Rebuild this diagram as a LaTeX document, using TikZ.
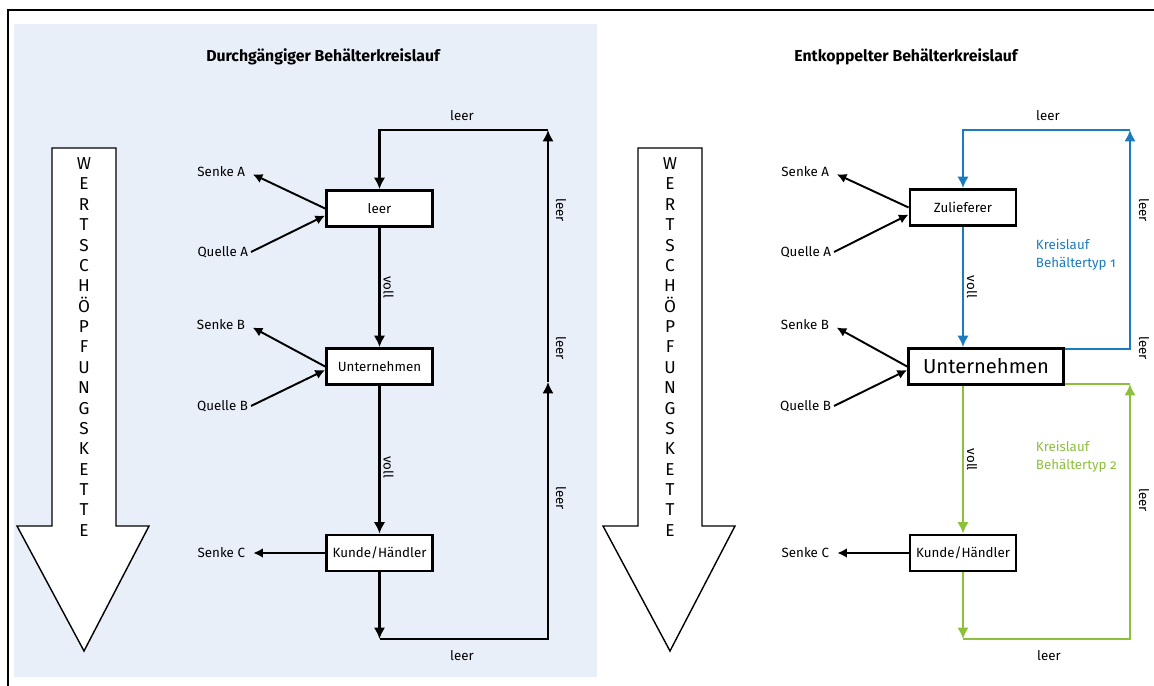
\documentclass[tikz,border=0pt]{standalone}
\usepackage{fontspec}
\setmainfont{Fira Sans}[Numbers=OldStyle]
\usetikzlibrary{arrows,arrows.meta,positioning}
\definecolor{panelblue}{RGB}{233,239,249}
\definecolor{kblue}{RGB}{27,123,192}
\definecolor{kgreen}{RGB}{141,192,58}
\newcommand{\wskletters}{W\\E\\R\\T\\S\\C\\H\\Ö\\P\\F\\U\\N\\G\\S\\K\\E\\T\\T\\E}
\tikzset{
  station/.style={draw, line width=1.6pt, fill=white, minimum width=2.12cm,
    minimum height=0.72cm, inner sep=2pt, font=\fontsize{7.6}{9}\selectfont},
  lbl/.style={font=\fontsize{7.6}{9}\selectfont, inner sep=1.5pt},
  ttl/.style={font=\fontsize{9}{11}\selectfont\bfseries},
  wsk/.style={align=center, inner sep=0pt, font=\fontsize{9.8}{11.6}\selectfont},
  chainarrow/.style={draw, line width=0.8pt, fill=white, line join=miter},
  flow/.style={line width=1.6pt, -{Latex[length=6.5pt,width=6.5pt]}},
  side/.style={line width=1.1pt, -{Latex[length=5.5pt,width=5.5pt]}, shorten >=3pt},
  blueflow/.style={line width=1.4pt, draw=kblue, -{Latex[length=6.5pt,width=6.5pt]}},
  greenflow/.style={line width=1.4pt, draw=kgreen, -{Latex[length=6.5pt,width=6.5pt]}},
}
\begin{document}
\begin{tikzpicture}[x=0.02cm, y=-0.02cm]
\useasboundingbox (0,0) rectangle (1154,686);
% Hintergrund und Rahmen
\fill[panelblue] (14,24) rectangle (597,677);
\draw[line width=1.1pt] (8,686) -- (8,10) -- (1154,10);

% Wertschoepfungskette
\foreach \dx/\nm in {0/wskL,586/wskR}{
  \draw[chainarrow] ({52+\dx},148) -- ({116+\dx},148) -- ({116+\dx},526) -- ({149+\dx},526)
    -- ({84+\dx},651) -- ({17+\dx},526) -- ({52+\dx},526) -- cycle;
  \node[wsk] (\nm) at ({84+\dx},347) {\wskletters};
}

% durchgaengiger Kreislauf
\node[ttl] (ttlA) at (323,57) {Durchgängiger Behälterkreislauf};
\node[station] (leerA) at (379.5,208.5) {leer};
\node[station] (untA) at (379.5,366.5) {Unternehmen};
\node[station] (kundeA) at (379.5,553) {Kunde/Händler};
\node[lbl, anchor=east] (senkeA1) at (248,172) {Senke A};
\node[lbl, anchor=east] (quelleA1) at (251,252) {Quelle A};
\node[lbl, anchor=east] (senkeB1) at (248,325) {Senke B};
\node[lbl, anchor=east] (quelleB1) at (251,406) {Quelle B};
\node[lbl, anchor=east] (senkeC1) at (248,553) {Senke C};
\draw[side] (leerA.west) -- (senkeA1.east);
\draw[side, shorten >=0pt] (quelleA1.east) -- ([yshift=-4pt]leerA.west);
\draw[side] (untA.west) -- (senkeB1.east);
\draw[side, shorten >=0pt] (quelleB1.east) -- ([yshift=-2pt]untA.west);
\draw[side] (kundeA.west) -- (senkeC1.east);

\coordinate (cA1) at (548,130);
\coordinate (cA2) at (548,382);
\coordinate (cA3) at (548,639);
\draw[flow] (leerA) -- node[lbl, rotate=-90, anchor=south] (vollA1) {voll} (untA);
\draw[flow] (untA) -- node[lbl, rotate=-90, anchor=south, pos=0.55] (vollA2) {voll} (kundeA);
\draw[flow] (kundeA) -- (kundeA |- cA3);
\draw[flow] (kundeA |- cA3) -- (cA3) -- (cA2);
\draw[flow] (cA2) -- (cA1);
\draw[flow] (cA1) -| (leerA);
\node[lbl] (leerT1) at (462,116) {leer};
\node[lbl] (leerU1) at (462,656) {leer};
\node[lbl, rotate=-90] (leerR1) at (561,210) {leer};
\node[lbl, rotate=-90] (leerR2) at (561,348) {leer};
\node[lbl, rotate=-90] (leerR3) at (561,498) {leer};

% entkoppelter Kreislauf
\node[ttl] (ttlB) at (906,57) {Entkoppelter Behälterkreislauf};
\node[station] (zulB) at (963,207.5) {Zulieferer};
\node[station, minimum width=3.1cm, font=\fontsize{11.5}{13}\selectfont] (untB) at (986,366.5) {Unternehmen};
\node[station] (kundeB) at (963,553) {Kunde/Händler};
\node[lbl, anchor=east] (senkeA2) at (832,172) {Senke A};
\node[lbl, anchor=east] (quelleA2) at (834,252) {Quelle A};
\node[lbl, anchor=east] (senkeB2) at (832,325) {Senke B};
\node[lbl, anchor=east] (quelleB2) at (834,406) {Quelle B};
\node[lbl, anchor=east] (senkeC2) at (832,553) {Senke C};
\draw[side] (zulB.west) -- (senkeA2.east);
\draw[side, shorten >=0pt] (quelleA2.east) -- ([yshift=-4pt]zulB.west);
\draw[side] (untB.west) -- (senkeB2.east);
\draw[side, shorten >=0pt] (quelleB2.east) -- ([yshift=-2pt]untB.west);
\draw[side] (kundeB.west) -- (senkeC2.east);

\coordinate (bB0) at (1130,349);
\coordinate (bB1) at (1130,130);
\draw[blueflow] (bB0 -| untB.east) -- (bB0) -- (bB1);
\draw[blueflow] (bB1) -| (zulB);
\draw[blueflow] (zulB) -- node[lbl, rotate=-90, anchor=south] (vollB1) {voll} (zulB.south |- untB.north);

\coordinate (gB0) at (963,639);
\coordinate (gB1) at (1130,384);
\draw[greenflow] (zulB.south |- untB.south) -- node[lbl, rotate=-90, anchor=south] (vollB2) {voll} (kundeB);
\draw[greenflow] (kundeB) -- (gB0);
\draw[greenflow] (gB0) -| (gB1);
\draw[greenflow, -] (gB1) -- (gB1 -| untB.east);

\node[lbl, text=kblue, anchor=north west, align=left, font=\fontsize{7.6}{10.2}\selectfont] (kreisB1) at (1033,236) {Kreislauf\\Behältertyp 1};
\node[lbl, text=kgreen, anchor=north west, align=left, font=\fontsize{7.6}{10.2}\selectfont] (kreisB2) at (1033,438) {Kreislauf\\Behältertyp 2};
\node[lbl] (leerT2) at (1048,116) {leer};
\node[lbl] (leerU2) at (1049,656) {leer};
\node[lbl, rotate=-90] (leerR4) at (1144,210) {leer};
\node[lbl, rotate=-90] (leerR5) at (1144,348) {leer};
\node[lbl, rotate=-90] (leerR6) at (1144,500) {leer};
\end{tikzpicture}
\end{document}
